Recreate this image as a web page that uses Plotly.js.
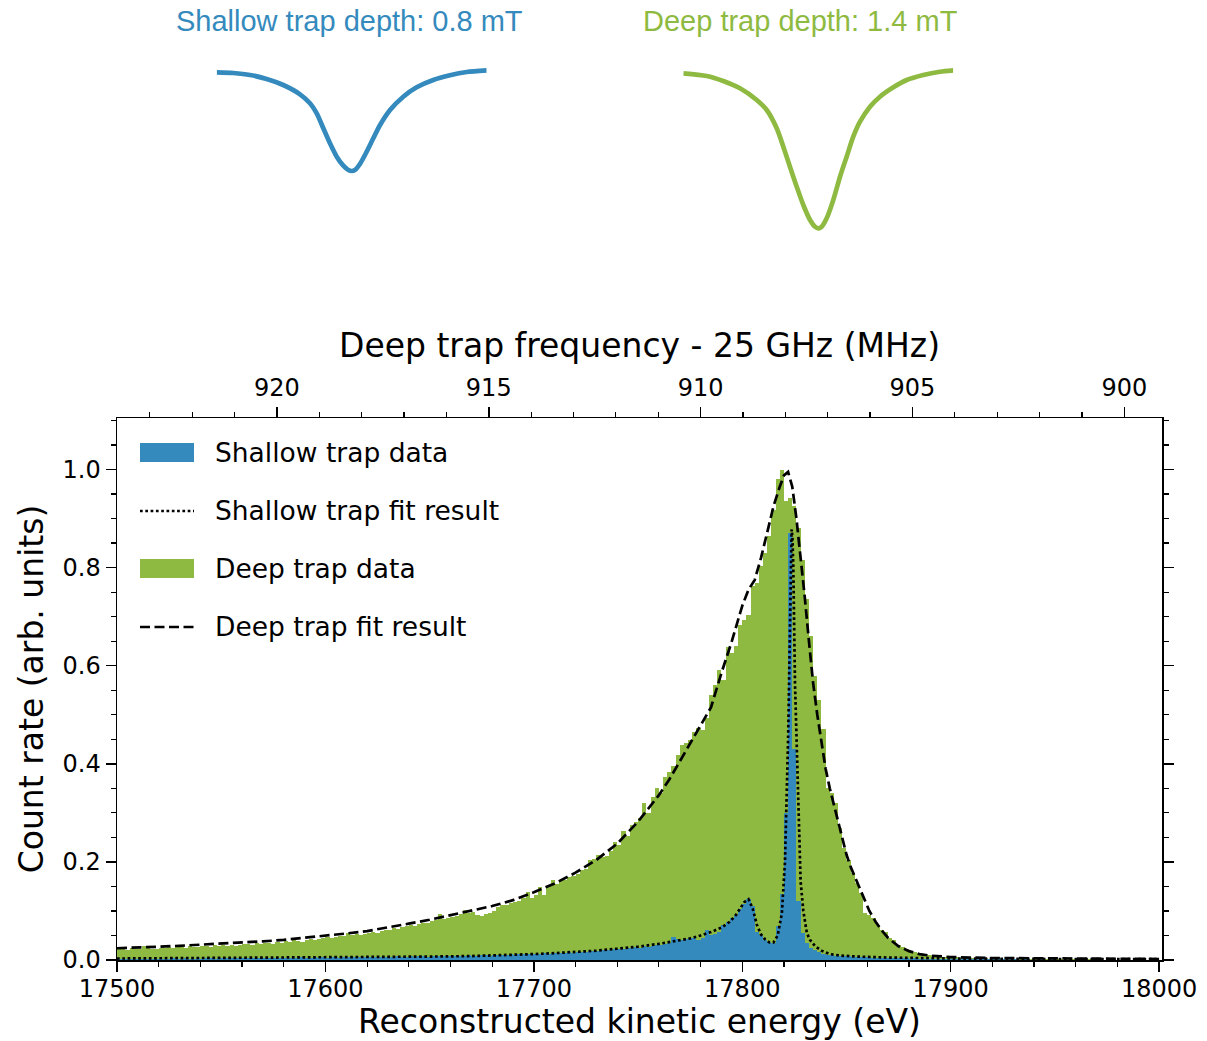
<!DOCTYPE html>
<html>
<head>
<meta charset="utf-8">
<script src="https://cdn.plot.ly/plotly-3.0.1.min.js"></script>
<style>html,body{margin:0;padding:0;background:#fff;}#chart{width:1207px;height:1041px;}</style>
</head>
<body>
<div id="chart"></div>
<script>
// ---------- data ----------
const binStart = 17500;   // eV, left edge of first histogram bin
const binWidth = 2;       // eV

// Deep trap histogram (normalised count rate), 250 bins of 2 eV from 17500 eV
const deepData = [
  0.022,0.023,0.021,0.024,0.022,0.023,0.028,0.024,0.022,0.023,
  0.025,0.024,0.026,0.025,0.027,0.026,0.025,0.028,0.027,0.026,
  0.028,0.029,0.027,0.030,0.028,0.031,0.029,0.030,0.028,0.031,
  0.032,0.033,0.031,0.034,0.033,0.035,0.034,0.032,0.036,0.035,
  0.038,0.037,0.040,0.039,0.036,0.041,0.042,0.040,0.043,0.044,
  0.046,0.045,0.047,0.049,0.048,0.055,0.050,0.052,0.051,0.054,
  0.056,0.058,0.055,0.060,0.062,0.061,0.065,0.063,0.067,0.069,
  0.071,0.070,0.074,0.076,0.075,0.079,0.082,0.094,0.083,0.086,
  0.088,0.090,0.093,0.102,0.096,0.098,0.092,0.090,0.093,0.095,
  0.100,0.108,0.112,0.113,0.117,0.119,0.121,0.127,0.139,0.126,
  0.132,0.149,0.133,0.150,0.163,0.155,0.164,0.163,0.170,0.171,
  0.175,0.184,0.186,0.204,0.205,0.214,0.210,0.212,0.222,0.240,
  0.235,0.262,0.252,0.275,0.282,0.290,0.320,0.300,0.333,0.350,
  0.340,0.374,0.384,0.395,0.418,0.439,0.442,0.449,0.465,0.472,
  0.469,0.493,0.541,0.560,0.592,0.571,0.639,0.626,0.640,0.684,
  0.694,0.704,0.762,0.769,0.803,0.830,0.864,0.918,0.980,1.000,
  0.935,0.942,0.925,0.881,0.816,0.735,0.660,0.578,0.531,0.470,
  0.350,0.340,0.320,0.269,0.228,0.204,0.177,0.156,0.136,0.095,
  0.092,0.085,0.072,0.062,0.058,0.045,0.040,0.030,0.026,0.022,
  0.019,0.017,0.014,0.013,0.011,0.010,0.009,0.008,0.007,0.007,
  0.006,0.006,0.005,0.005,0.005,0.004,0.004,0.004,0.004,0.003,
  0.003,0.004,0.003,0.003,0.003,0.002,0.003,0.003,0.002,0.003,
  0.002,0.002,0.003,0.002,0.002,0.002,0.002,0.001,0.002,0.002,
  0.002,0.001,0.002,0.002,0.001,0.002,0.001,0.001,0.002,0.001,
  0.001,0.001,0.002,0.001,0.001,0.001,0.001,0.001,0.001,0.001
];

// Shallow trap histogram, same binning
const shallowData = [
  0.002,0.003,0.002,0.003,0.002,0.003,0.003,0.002,0.003,0.003,
  0.003,0.002,0.003,0.004,0.003,0.003,0.004,0.003,0.003,0.004,
  0.003,0.004,0.004,0.003,0.004,0.004,0.005,0.004,0.004,0.005,
  0.004,0.004,0.005,0.005,0.004,0.005,0.005,0.004,0.005,0.005,
  0.005,0.005,0.004,0.005,0.006,0.005,0.005,0.006,0.005,0.006,
  0.005,0.006,0.006,0.005,0.006,0.006,0.007,0.006,0.006,0.007,
  0.006,0.007,0.006,0.007,0.007,0.006,0.007,0.008,0.007,0.007,
  0.008,0.007,0.008,0.008,0.007,0.008,0.009,0.008,0.008,0.009,
  0.008,0.009,0.009,0.008,0.010,0.009,0.009,0.010,0.010,0.009,
  0.011,0.010,0.011,0.011,0.012,0.011,0.012,0.013,0.012,0.012,
  0.013,0.012,0.014,0.013,0.014,0.015,0.014,0.015,0.016,0.015,
  0.016,0.017,0.016,0.018,0.019,0.018,0.020,0.021,0.020,0.022,
  0.023,0.022,0.024,0.025,0.026,0.025,0.028,0.027,0.029,0.031,
  0.030,0.033,0.034,0.046,0.042,0.040,0.043,0.044,0.045,0.041,
  0.045,0.061,0.050,0.053,0.058,0.072,0.078,0.085,0.092,0.105,
  0.114,0.124,0.110,0.058,0.050,0.040,0.037,0.034,0.070,0.135,
  0.300,0.870,0.430,0.120,0.055,0.035,0.025,0.020,0.016,0.013,
  0.011,0.010,0.009,0.009,0.008,0.008,0.007,0.007,0.006,0.006,
  0.006,0.005,0.005,0.005,0.005,0.004,0.004,0.004,0.004,0.004,
  0.003,0.004,0.003,0.003,0.003,0.003,0.003,0.003,0.003,0.002,
  0.002,0.003,0.002,0.002,0.002,0.002,0.002,0.002,0.002,0.002,
  0.002,0.002,0.002,0.001,0.002,0.002,0.001,0.002,0.002,0.001,
  0.001,0.002,0.001,0.001,0.002,0.001,0.001,0.001,0.001,0.001,
  0.001,0.001,0.001,0.001,0.001,0.001,0.001,0.001,0.001,0.001,
  0.001,0.001,0.001,0.001,0.001,0.001,0.001,0.001,0.001,0.001
];

// Deep trap fit result
const deepFitE = [17500,17510,17520,17530,17540,17550,17560,17570,17580,17590,17600,17610,17620,17630,17640,17650,17660,17670,17680,17690,17700,17710,17720,17730,17740,17750,17760,17765,17770,17775,17780,17785,17790,17795,17800,17803,17806,17809,17812,17815,17818,17820,17822,17824,17826,17828,17830,17832,17834,17836,17838,17840,17842,17844,17846,17848,17850,17852,17855,17858,17861,17864,17867,17870,17875,17880,17885,17890,17900,17920,17950,18000];
const deepFitV = [0.024,0.025,0.027,0.029,0.031,0.033,0.035,0.038,0.041,0.045,0.049,0.054,0.059,0.066,0.074,0.082,0.091,0.101,0.110,0.122,0.138,0.156,0.178,0.204,0.237,0.282,0.336,0.368,0.405,0.443,0.478,0.515,0.585,0.650,0.722,0.755,0.775,0.820,0.872,0.925,0.965,0.988,0.995,0.965,0.900,0.825,0.740,0.650,0.565,0.500,0.440,0.390,0.350,0.315,0.280,0.245,0.215,0.190,0.160,0.128,0.100,0.078,0.060,0.045,0.028,0.018,0.012,0.009,0.006,0.004,0.003,0.002];

// Shallow trap fit result
const shallowFitE = [17500,17550,17600,17650,17670,17690,17700,17710,17720,17730,17740,17750,17760,17770,17775,17780,17785,17790,17794,17797,17799,17801,17803,17805,17807,17809,17811,17813,17815,17817,17819,17820.5,17822,17823,17823.4,17823.7,17824.1,17824.5,17825.3,17826.9,17828,17829.3,17831,17832.5,17835,17838,17842,17847,17855,17870,17900,17950,18000];
const shallowFitV = [0.003,0.004,0.005,0.007,0.008,0.010,0.012,0.014,0.016,0.019,0.023,0.027,0.033,0.040,0.044,0.050,0.057,0.066,0.078,0.092,0.106,0.118,0.124,0.105,0.072,0.052,0.042,0.036,0.036,0.050,0.095,0.200,0.450,0.720,0.830,0.878,0.860,0.800,0.565,0.290,0.160,0.100,0.055,0.041,0.028,0.019,0.012,0.009,0.007,0.005,0.003,0.002,0.002];

// Top axis: deep trap frequency - 25 GHz (MHz)
const freqTicks = [920, 915, 910, 905, 900];

// Trap shape sketches (position across trap, relative field depth)
const shallowTrapZ = [-1.0,-0.877,-0.753,-0.630,-0.507,-0.383,-0.309,-0.259,-0.210,-0.161,-0.111,-0.062,-0.025,0,0.024,0.061,0.111,0.160,0.210,0.284,0.382,0.481,0.604,0.728,0.852,1.0];
const shallowTrapB = [-0.023,-0.03,-0.05,-0.09,-0.15,-0.243,-0.333,-0.433,-0.583,-0.733,-0.867,-0.957,-1.0,-1.01,-1.0,-0.94,-0.817,-0.683,-0.55,-0.40,-0.267,-0.173,-0.10,-0.053,-0.02,-0.003];
const deepTrapZ = [-1.0,-0.827,-0.704,-0.580,-0.456,-0.382,-0.308,-0.259,-0.210,-0.160,-0.111,-0.061,-0.024,0,0.025,0.062,0.111,0.161,0.210,0.259,0.309,0.383,0.457,0.556,0.655,0.778,0.901,1.0];
const deepTrapB = [-0.033,-0.06,-0.11,-0.183,-0.30,-0.40,-0.583,-0.767,-0.967,-1.167,-1.35,-1.50,-1.567,-1.583,-1.567,-1.483,-1.30,-1.067,-0.867,-0.667,-0.517,-0.367,-0.267,-0.173,-0.10,-0.05,-0.017,-0.003];

const seriesNames = ['Shallow trap data','Shallow trap fit result','Deep trap data','Deep trap fit result'];
const trapLabels = ['Shallow trap depth: 0.8 mT','Deep trap depth: 1.4 mT'];

// ---------- styles ----------
const BLUE = '#348ABD', GREEN = '#8EBA42';
const FONT = 'DejaVu Sans, Verdana, sans-serif';
const DASH = '10px,4.5px', DOT = '2.7px,2.6px';
const TITLE_SIZE = 33, TICK_SIZE = 24, LEG_SIZE = 26.5;

const traces = [
  {type:'bar', name:seriesNames[2], x0:binStart+binWidth/2, dx:binWidth, y:deepData, width:binWidth,
   marker:{color:GREEN, line:{width:0}}, showlegend:false, hoverinfo:'skip'},
  {type:'bar', name:seriesNames[0], x0:binStart+binWidth/2, dx:binWidth, y:shallowData, width:binWidth,
   marker:{color:BLUE, line:{width:0}}, showlegend:false, hoverinfo:'skip'},
  {type:'scatter', mode:'lines', name:seriesNames[1], x:shallowFitE, y:shallowFitV,
   line:{color:'black', width:2.7, dash:DOT}, showlegend:false, hoverinfo:'skip'},
  {type:'scatter', mode:'lines', name:seriesNames[3], x:deepFitE, y:deepFitV,
   line:{color:'black', width:2.7, dash:DASH}, showlegend:false, hoverinfo:'skip'},
  // carrier for the top frequency axis
  {type:'scatter', mode:'markers', x:freqTicks, y:freqTicks.map(()=>0), xaxis:'x2', yaxis:'y',
   marker:{opacity:0}, showlegend:false, hoverinfo:'skip'},
  // trap sketches
  {type:'scatter', mode:'lines', x:shallowTrapZ, y:shallowTrapB, xaxis:'x3', yaxis:'y3',
   line:{color:BLUE, width:4.7, shape:'spline', smoothing:0.7}, showlegend:false, hoverinfo:'skip'},
  {type:'scatter', mode:'lines', x:deepTrapZ, y:deepTrapB, xaxis:'x4', yaxis:'y4',
   line:{color:GREEN, width:4.7, shape:'spline', smoothing:0.7}, showlegend:false, hoverinfo:'skip'}
];

const W = 1207, H = 1041, ML = 117, MR = 45, MT = 0, MB = 81;
const PW = W - ML - MR, PH = H - MT - MB;
const px = v => (v - ML) / PW;          // pixel x -> paper
const py = v => (PH - (v - MT)) / PH;   // pixel y -> paper

const tickCommon = {
  ticks:'outside', ticklen:10, tickwidth:1.5, tickcolor:'black',
  showline:true, linecolor:'black', linewidth:1.5, showgrid:false, zeroline:false,
  tickfont:{family:FONT, size:TICK_SIZE, color:'black'}, automargin:false
};

const layout = {
  width:W, height:H,
  margin:{l:ML, r:MR, t:MT, b:MB, pad:0},
  paper_bgcolor:'white', plot_bgcolor:'white',
  font:{family:FONT, color:'black'},
  barmode:'overlay', bargap:0,
  showlegend:false,
  xaxis: Object.assign({}, tickCommon, {
    domain:[0,1], range:[17500, 18001.4], anchor:'y', mirror:true,
    tick0:17500, dtick:100, tickformat:'d', ticklabelstandoff:-3,
    minor:{dtick:20, ticks:'outside', ticklen:5, tickwidth:1.2, tickcolor:'black', showgrid:false},
    title:{text:'Reconstructed kinetic energy (eV)', font:{family:FONT, size:TITLE_SIZE, color:'black'}, standoff:8}
  }),
  xaxis2: Object.assign({}, tickCommon, {
    overlaying:'x', side:'top', anchor:'y', range:[923.774, 899.11],
    tick0:900, dtick:5, tickformat:'d', ticklabelstandoff:1,
    minor:{dtick:1, ticks:'outside', ticklen:5, tickwidth:1.2, tickcolor:'black', showgrid:false},
    title:{text:'Deep trap frequency - 25 GHz (MHz)', font:{family:FONT, size:TITLE_SIZE, color:'black'}, standoff:6}
  }),
  yaxis: Object.assign({}, tickCommon, {
    domain:[0, py(418)], range:[0, 1.105], anchor:'x', mirror:'ticks',
    tick0:0, dtick:0.2, tickformat:'.1f',
    minor:{dtick:0.05, ticks:'outside', ticklen:5, tickwidth:1.2, tickcolor:'black', showgrid:false},
    title:{text:'Count rate (arb. units)', font:{family:FONT, size:TITLE_SIZE, color:'black'}, standoff:9}
  }),
  xaxis3:{domain:[px(216.7), px(486.7)], range:[-1,1], anchor:'y3', visible:false, fixedrange:true},
  yaxis3:{domain:[py(260), py(60)], range:[-1.9,0.1], anchor:'x3', visible:false, fixedrange:true},
  xaxis4:{domain:[px(683.3), px(953.3)], range:[-1,1], anchor:'y4', visible:false, fixedrange:true},
  yaxis4:{domain:[py(260), py(60)], range:[-1.9,0.1], anchor:'x4', visible:false, fixedrange:true},
  shapes:[
    {type:'rect', xref:'paper', yref:'paper', x0:px(140), x1:px(194), y0:py(462), y1:py(443),
     fillcolor:BLUE, line:{width:0}},
    {type:'line', xref:'paper', yref:'paper', x0:px(140), x1:px(194), y0:py(511), y1:py(511),
     line:{color:'black', width:2.7, dash:DOT}},
    {type:'rect', xref:'paper', yref:'paper', x0:px(140), x1:px(194), y0:py(578), y1:py(559),
     fillcolor:GREEN, line:{width:0}},
    {type:'line', xref:'paper', yref:'paper', x0:px(140), x1:px(194), y0:py(627), y1:py(627),
     line:{color:'black', width:2.7, dash:DASH}}
  ],
  annotations:[
    {xref:'paper', yref:'paper', x:px(213), y:py(452.5), xanchor:'left', yanchor:'middle', showarrow:false,
     text:seriesNames[0], font:{family:FONT, size:LEG_SIZE, color:'black'}},
    {xref:'paper', yref:'paper', x:px(213), y:py(510.5), xanchor:'left', yanchor:'middle', showarrow:false,
     text:seriesNames[1], font:{family:FONT, size:LEG_SIZE, color:'black'}},
    {xref:'paper', yref:'paper', x:px(213), y:py(568.5), xanchor:'left', yanchor:'middle', showarrow:false,
     text:seriesNames[2], font:{family:FONT, size:LEG_SIZE, color:'black'}},
    {xref:'paper', yref:'paper', x:px(213), y:py(626.5), xanchor:'left', yanchor:'middle', showarrow:false,
     text:seriesNames[3], font:{family:FONT, size:LEG_SIZE, color:'black'}},
    {xref:'paper', yref:'paper', x:px(349.5), y:py(21), xanchor:'center', yanchor:'middle', showarrow:false,
     text:trapLabels[0], font:{family:'Liberation Sans, Arial, sans-serif', size:29, color:BLUE}},
    {xref:'paper', yref:'paper', x:px(800), y:py(21), xanchor:'center', yanchor:'middle', showarrow:false,
     text:trapLabels[1], font:{family:'Liberation Sans, Arial, sans-serif', size:29, color:GREEN}}
  ]
};

Plotly.newPlot('chart', traces, layout, {staticPlot:true, displayModeBar:false});
</script>
</body>
</html>
